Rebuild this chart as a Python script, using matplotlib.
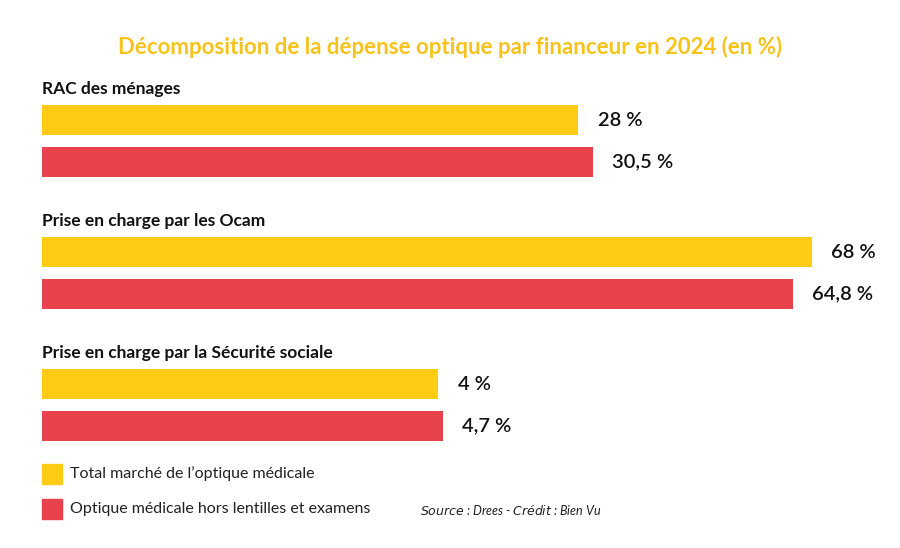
import matplotlib
matplotlib.use("Agg")
import matplotlib.pyplot as plt

categories = ["RAC des ménages", "Prise en charge par les Ocam", "Prise en charge par la Sécurité sociale"]
total = [28, 68, 4]
hors = [30.5, 64.8, 4.7]
labels_total = ["28 %", "68 %", "4 %"]
labels_hors = ["30,5 %", "64,8 %", "4,7 %"]
series = ["Total marché de l’optique médicale", "Optique médicale hors lentilles et examens"]

YEL = "#FFCB14"
RED = "#E8424B"
plt.rcParams['font.family'] = ['Lato', 'DejaVu Sans']

fig = plt.figure(figsize=(9, 5.48), dpi=100)
ax = fig.add_axes([42/900, 0, 1-42/900, 1])
base = -64
ax.set_xlim(base, base + 858/5.83)
ax.set_ylim(548, 0)
ax.axis("off")

for i, c in enumerate(categories):
    y0 = 120 + i * 132
    ax.barh(y0, total[i] - base, left=base, height=30, color=YEL)
    ax.barh(y0 + 42, hors[i] - base, left=base, height=30, color=RED)
    ax.text(base, y0 - 31, c, fontsize=12.5, fontweight="bold", va="center", ha="left", color="#111")
    ax.text(total[i] + 3.3, y0, labels_total[i], fontsize=14.5, fontweight="semibold", va="center", color="#111")
    ax.text(hors[i] + 3.3, y0 + 42, labels_hors[i], fontsize=14.5, fontweight="semibold", va="center", color="#111")

fig.text(0.5, 1 - 47/548, "Décomposition de la dépense optique par financeur en 2024 (en %)",
         ha="center", va="center", fontsize=16, fontweight="bold", color="#F7C21A")

for j, (s, col) in enumerate(zip(series, [YEL, RED])):
    yy = 1 - (474 + j * 35) / 548
    fig.patches.append(matplotlib.patches.Rectangle((42/900, yy - 10/548), 20/900, 20/548,
                       transform=fig.transFigure, color=col))
    fig.text(70/900, yy, s, fontsize=11.5, va="center", color="#222")

fig.text(420/900, 1 - 510/548, r"$\bf{\it{Source}}$ : Drees - $\bf{\it{Crédit}}$ : Bien Vu",
         fontsize=9, style="italic", va="center", color="#222")
fig.savefig("out.png", dpi=100, facecolor="white")
